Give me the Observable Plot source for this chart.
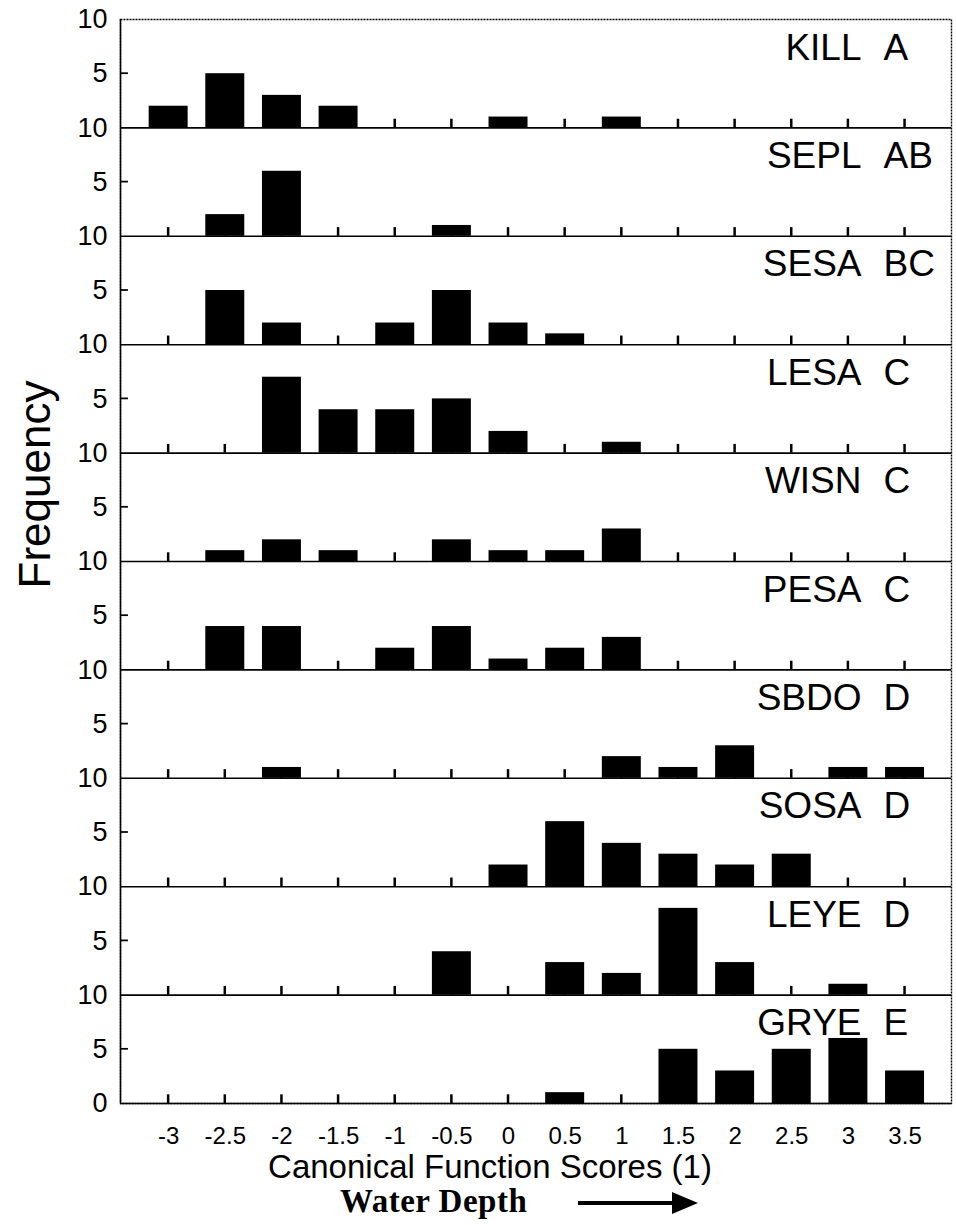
<!DOCTYPE html>
<html>
<head>
<meta charset="utf-8">
<script src="https://cdn.jsdelivr.net/npm/d3@7"></script>
<script src="https://cdn.jsdelivr.net/npm/@observablehq/plot@0.6"></script>
<style>
  html, body { margin: 0; padding: 0; background: #fff; }
  body { width: 956px; font-family: "Liberation Sans", Arial, Helvetica, sans-serif; }
  #chart svg { display: block; }
  #depth { position: relative; width: 956px; height: 40px; }
  #depth span { position: absolute; left: 340px; top: -2px; font-family: "Liberation Serif", "Times New Roman", serif; font-weight: bold; font-size: 33px; letter-spacing: 0.5px; color: #000; }
  #depth svg { position: absolute; left: 576px; top: 3px; }
</style>
</head>
<body>
<div id="chart"></div>
<div id="depth"><span>Water Depth</span>
  <svg width="125" height="30" viewBox="0 0 125 30"><line x1="2" y1="15" x2="98" y2="15" stroke="#000" stroke-width="4"/><polygon points="96,4 122,15 96,26" fill="#000"/></svg>
</div>
<script>
// Bin centres (canonical function scores) and their tick labels
const scores = [-3, -2.5, -2, -1.5, -1, -0.5, 0, 0.5, 1, 1.5, 2, 2.5, 3, 3.5];
const tickLabels = ["-3", "-2.5", "-2", "-1.5", "-1", "-0.5", "0", "0.5", "1", "1.5", "2", "2.5", "3", "3.5"];

// Panels, top to bottom
const species = ["KILL", "SEPL", "SESA", "LESA", "WISN", "PESA", "SBDO", "SOSA", "LEYE", "GRYE"];
const groups  = ["A", "AB", "BC", "C", "C", "C", "D", "D", "D", "E"];

// Frequencies per bin (same order as scores)
const kill = [2, 5, 3, 2, 0, 0, 1, 0, 1, 0, 0, 0, 0, 0];
const sepl = [0, 2, 6, 0, 0, 1, 0, 0, 0, 0, 0, 0, 0, 0];
const sesa = [0, 5, 2, 0, 2, 5, 2, 1, 0, 0, 0, 0, 0, 0];
const lesa = [0, 0, 7, 4, 4, 5, 2, 0, 1, 0, 0, 0, 0, 0];
const wisn = [0, 1, 2, 1, 0, 2, 1, 1, 3, 0, 0, 0, 0, 0];
const pesa = [0, 4, 4, 0, 2, 4, 1, 2, 3, 0, 0, 0, 0, 0];
const sbdo = [0, 0, 1, 0, 0, 0, 0, 0, 2, 1, 3, 0, 1, 1];
const sosa = [0, 0, 0, 0, 0, 0, 2, 6, 4, 3, 2, 3, 0, 0];
const leye = [0, 0, 0, 0, 0, 4, 0, 3, 2, 8, 3, 0, 1, 0];
const grye = [0, 0, 0, 0, 0, 0, 0, 1, 0, 5, 3, 5, 6, 3];
const counts = [kill, sepl, sesa, lesa, wisn, pesa, sbdo, sosa, leye, grye];

const panelMax = 10;                 // each panel's y axis runs 0..10
const nP = species.length;
const base = i => (nP - 1 - i) * panelMax;   // stacked panel offset

const rows = species.flatMap((s, i) => scores.map((x, j) => ({panel: i, score: x, n: counts[i][j]})));
const bars = rows.filter(d => d.n > 0);
const panels = species.map((s, i) => ({panel: i, name: s, group: groups[i]}));
const yTicks = d3.range(0, nP * panelMax + 1, panelMax / 2);
const halfW = 0.172;

const xDomain = [-3.425, 3.91];

const chart = Plot.plot({
  width: 956,
  height: 1185,
  marginTop: 19,
  marginBottom: 82,
  marginLeft: 120,
  marginRight: 5,
  style: {fontFamily: "'Liberation Sans', Arial, Helvetica, sans-serif", fontSize: "26px", color: "#000", background: "#fff"},
  x: {domain: xDomain, axis: null},
  y: {domain: [0, nP * panelMax], axis: null},
  marks: [
    // small bin ticks on each panel baseline
    Plot.rectY(rows, {x1: d => d.score - 0.011, x2: d => d.score + 0.011, y1: d => base(d.panel), y2: d => base(d.panel) + 0.8, fill: "#000"}),
    // bars
    Plot.rectY(bars, {
      x1: d => d.score - halfW, x2: d => d.score + halfW,
      y1: d => base(d.panel), y2: d => base(d.panel) + d.n,
      fill: "#000"
    }),
    // small inward ticks at 5 on the left axis
    Plot.rectY(panels, {y1: d => base(d.panel) + panelMax / 2 - 0.08, y2: d => base(d.panel) + panelMax / 2 + 0.08, x1: xDomain[0], x2: xDomain[0] + 0.07, fill: "#000"}),
    // panel separators
    Plot.ruleY(panels.slice(1), {y: d => base(d.panel - 1), stroke: "#000", strokeWidth: 1.6}),
    Plot.ruleY([0], {stroke: "#000", strokeWidth: 1.6}),
    Plot.frame({stroke: "#000", strokeWidth: 1.4, strokeDasharray: "2,1"}),
    Plot.ruleX([xDomain[0]], {stroke: "#000", strokeWidth: 1.5}),
    // panel labels
    Plot.text(panels, {frameAnchor: "right", y: d => base(d.panel) + 7.4, text: "name", textAnchor: "end", dx: -90, fontSize: 37, lineAnchor: "middle"}),
    Plot.text(panels, {frameAnchor: "right", y: d => base(d.panel) + 7.4, text: "group", textAnchor: "start", dx: -68, fontSize: 37, lineAnchor: "middle"}),
    // axes
    Plot.axisY({ticks: yTicks, tickFormat: d => d === 0 ? "0" : (d % panelMax === 0 ? "10" : "5"), tickSize: 0, tickPadding: 13, fontSize: 27}),
    Plot.axisX({ticks: scores, tickFormat: d => tickLabels[scores.indexOf(d)], tickSize: 0, tickPadding: 23, fontSize: 24, label: null}),
    Plot.text(["Canonical Function Scores (1)"], {frameAnchor: "bottom", dx: -46, dy: 64, lineAnchor: "middle", fontSize: 33}),
    Plot.text(["Frequency"], {frameAnchor: "left", dx: -85, dy: -77, rotate: -90, textAnchor: "middle", lineAnchor: "middle", fontSize: 44})
  ]
});
document.getElementById("chart").appendChild(chart);
</script>
</body>
</html>
